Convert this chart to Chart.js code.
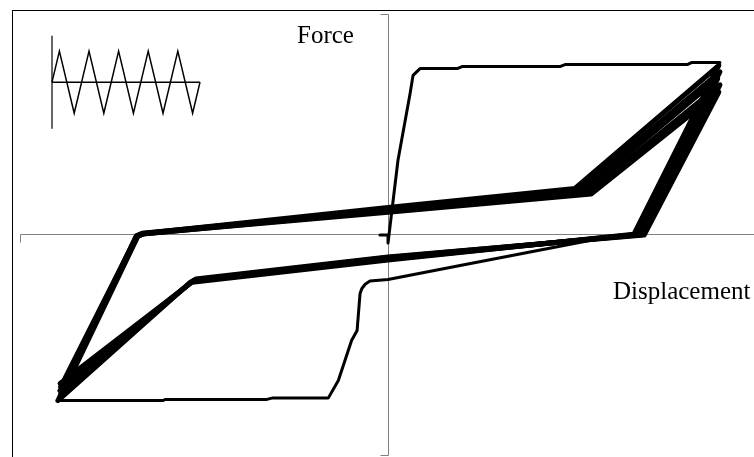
<!DOCTYPE html>
<html lang="en">
<head>
<meta charset="UTF-8">
<title>Force - Displacement</title>
<script src="https://cdn.jsdelivr.net/npm/chart.js"></script>
<style>
  html, body { margin: 0; padding: 0; background: #fff; overflow: hidden; }
  canvas { display: block; }
</style>
</head>
<body>
<canvas id="grafico" width="754" height="457"></canvas>
<script>
// first loading + first reversal
const firstDisp = [-2.2, 0, 0, 2.7, 6.0, 6.8, 8.7, 18.8, 20.1, 46.7, 48.1, 81.3, 82.6, 90.2,
  67.4, 57.6, 19.6, 0, -4.9, -6.2, -7.1, -7.6, -8.4, -9.9, -13.5, -16.2, -31.3, -32.9, -60.6, -61.1, -89.7];
const firstForce = [0, 0, -3.6, 33.7, 64.0, 72.2, 75.3, 75.3, 76.2, 76.2, 77.1, 77.1, 78.1, 78.1,
  0.2, -1.6, -13.8, -20.1, -20.8, -22.3, -24.2, -26.5, -43.2, -47.7, -65.8, -73.7, -73.7, -74.4, -74.4, -74.9, -74.9];

// following cycles
const cycle1Disp  = [-89.7, -68.2, -66.6, 0, 50.8, 89.9, 66.8, 0, -53.8, -89.1];
const cycle1Force = [-74.9, -0.5, 0.7, 12.4, 21.1, 76.7, 0.3, -11.3, -21.5, -74.0];
const cycle2Disp  = [-89.1, -68.0, -66.4, 0, 51.9, 90.2, 67.5, 0, -53.4, -88.9];
const cycle2Force = [-74.0, -0.6, 0.6, 11.9, 20.4, 73.8, 0.2, -11.0, -21.1, -72.2];
const cycle3Disp  = [-88.9, -68.4, -66.8, 0, 53.0, 89.6, 68.2, 0, -53.0, -89.1];
const cycle3Force = [-72.2, -0.4, 0.8, 11.4, 19.8, 70.8, 0.2, -10.6, -20.7, -70.4];
const cycle4Disp  = [-89.1, -68.1, -66.5, 0, 54.1, 90.2, 68.9, 0, -52.6, -88.9];
const cycle4Force = [-70.4, -0.7, 0.5, 10.8, 19.1, 67.9, 0.1, -10.2, -20.3, -68.6];
const cycle5Disp  = [-88.9, -68.3, -66.7, 0, 55.2, 89.9, 69.6, 0, -52.2, -89.1];
const cycle5Force = [-68.6, -0.5, 0.6, 10.3, 18.5, 64.7, 0.0, -9.9, -19.9, -67.2];

// loading protocol (inset)
const insetTime = [0, 0.25, 0.75, 1.25, 1.75, 2.25, 2.75, 3.25, 3.75, 4.25, 4.75, 5];
const insetLoad = [0, 1, -1, 1, -1, 1, -1, 1, -1, 1, -1, 0];

const toPoints = (xs, ys) => xs.map((x, i) => ({ x: x, y: ys[i] }));

const curve = (xs, ys, w) => ({
  data: toPoints(xs, ys),
  borderColor: '#000',
  borderWidth: w,
  borderJoinStyle: 'round',
  borderCapStyle: 'round',
  pointRadius: 0,
  tension: 0
});

// frame, axes and labels
const framePlugin = {
  id: 'frame',
  beforeDatasetsDraw(chart) {
    const ctx = chart.ctx;
    const sx = chart.scales.x, sy = chart.scales.y;
    const x0 = Math.round(sx.getPixelForValue(0)) + 0.5;
    const y0 = Math.round(sy.getPixelForValue(0)) - 0.5;
    const top = Math.round(sy.getPixelForValue(sy.max)) + 0.5;
    const bottom = Math.round(sy.getPixelForValue(sy.min)) - 0.5;
    const left = Math.round(sx.getPixelForValue(sx.min)) + 0.5;
    ctx.save();
    ctx.strokeStyle = '#000';
    ctx.lineWidth = 1;
    ctx.strokeRect(12.5, 10.5, 800, 500);

    ctx.strokeStyle = '#808080';
    ctx.beginPath();
    ctx.moveTo(x0, top); ctx.lineTo(x0, bottom);
    ctx.moveTo(x0 - 8, top); ctx.lineTo(x0, top);
    ctx.moveTo(x0 - 8, bottom); ctx.lineTo(x0, bottom);
    ctx.moveTo(left, y0); ctx.lineTo(chart.width, y0);
    ctx.moveTo(left, y0); ctx.lineTo(left, y0 + 8);
    ctx.stroke();
    ctx.restore();
  },
  afterDatasetsDraw(chart) {
    const ctx = chart.ctx;
    ctx.save();
    ctx.fillStyle = '#000';
    ctx.font = '25px "Liberation Serif", "Times New Roman", serif';
    ctx.textBaseline = 'alphabetic';
    ctx.textAlign = 'left';
    ctx.fillText('Force', 297, 43);
    ctx.fillText('Displacement', 613, 299);
    ctx.restore();
  }
};

const ctx = document.getElementById('grafico').getContext('2d');

new Chart(ctx, {
  type: 'line',
  data: {
    datasets: [
      curve(firstDisp, firstForce, 3),
      curve(cycle1Disp, cycle1Force, 5),
      curve(cycle2Disp, cycle2Force, 5),
      curve(cycle3Disp, cycle3Force, 5),
      curve(cycle4Disp, cycle4Force, 5),
      curve(cycle5Disp, cycle5Force, 5),
      {
        data: toPoints(insetTime, insetLoad),
        xAxisID: 'x2', yAxisID: 'y2',
        borderColor: '#000', borderWidth: 1.5, pointRadius: 0, tension: 0
      },
      {
        data: toPoints([0, 5], [0, 0]),
        xAxisID: 'x2', yAxisID: 'y2',
        borderColor: '#000', borderWidth: 1.5, pointRadius: 0
      },
      {
        data: toPoints([0, 0], [-1.5, 1.5]),
        xAxisID: 'x2', yAxisID: 'y2',
        borderColor: '#333', borderWidth: 1.5, pointRadius: 0
      }
    ]
  },
  options: {
    responsive: false,
    animation: false,
    devicePixelRatio: 1,
    layout: { padding: { left: 20, top: 14, right: 1, bottom: 1 } },
    plugins: {
      legend: { display: false },
      tooltip: { enabled: false }
    },
    scales: {
      x: { type: 'linear', min: -100, max: 99.18, display: false },
      y: { type: 'linear', min: -100, max: 100, display: false },
      x2: { type: 'linear', min: -1.081, max: 23.68, display: false },
      y2: { type: 'linear', min: -12.06, max: 2.2, display: false }
    }
  },
  plugins: [framePlugin]
});
</script>
</body>
</html>
